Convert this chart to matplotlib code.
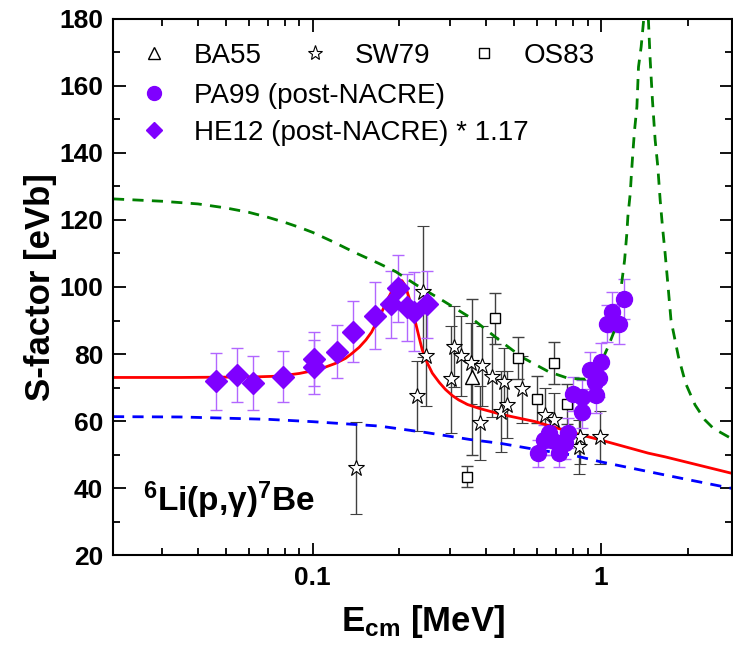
import numpy as np
import matplotlib
matplotlib.use('Agg')
import matplotlib.pyplot as plt
from matplotlib import ticker
from matplotlib.lines import Line2D

plt.rcParams['font.family'] = ['Liberation Sans', 'DejaVu Sans']
plt.rcParams['mathtext.fontset'] = 'custom'
plt.rcParams['mathtext.rm'] = 'Liberation Sans'
plt.rcParams['mathtext.it'] = 'Liberation Sans:italic'
plt.rcParams['mathtext.bf'] = 'Liberation Sans:bold'
plt.rcParams['mathtext.default'] = 'bf'

# ---- data ----
# HE12 (post-NACRE) * 1.17
he12_e = [0.0463, 0.0546, 0.062, 0.0792, 0.1007, 0.1007, 0.121, 0.138, 0.165, 0.187, 0.197, 0.213, 0.225, 0.249]
he12_s = [71.9, 73.7, 71.4, 73.2, 78.6, 76.2, 80.7, 86.7, 91.4, 94.8, 99.6, 93.9, 92.6, 94.9]
he12_err = [8.5, 8.0, 8.0, 7.6, 8.1, 8.1, 8.0, 9.0, 10.0, 10.0, 10.0, 10.0, 11.8, 10.0]

# PA99 (post-NACRE)
pa99_e = [0.605, 0.634, 0.659, 0.677, 0.714, 0.723, 0.753, 0.769, 0.798, 0.86, 0.86,
          0.919, 0.951, 0.961, 0.982, 1.0, 1.049, 1.092, 1.151, 1.198]
pa99_s = [50.4, 54.3, 56.3, 54.3, 50.4, 53.3, 53.3, 56.5, 68.1, 67.3, 62.8,
          75.2, 71.5, 67.8, 72.7, 77.7, 89.0, 92.6, 89.0, 96.3]
pa99_err = [4.0, 4.5, 4.5, 4.5, 4.0, 4.5, 4.5, 4.5, 5.0, 5.0, 5.0,
            5.5, 5.5, 5.5, 5.5, 5.5, 5.5, 6.0, 6.0, 6.0]

# SW79
sw79_e = [0.141, 0.231, 0.241, 0.247, 0.301, 0.309, 0.326, 0.355, 0.382, 0.387,
          0.42, 0.449, 0.461, 0.473, 0.531, 0.639, 0.686, 0.837, 0.849, 0.995]
sw79_s = [45.9, 67.5, 98.6, 79.4, 72.4, 82.2, 79.4, 77.2, 59.3, 76.4,
          73.2, 62.8, 71.7, 64.8, 69.5, 61.8, 60.3, 52.3, 55.3, 55.1]
sw79_err = [13.8, 10.5, 19.6, 15.0, 16.0, 12.0, 12.0, 12.0, 11.0, 12.0,
            12.0, 12.0, 10.0, 10.0, 10.0, 8.0, 8.0, 8.0, 8.0, 8.0]

# BA55
ba55_e = [0.356]
ba55_s = [73.2]
ba55_err = [23.2]

# OS83
os83_e = [0.344, 0.429, 0.516, 0.6, 0.686, 0.763]
os83_s = [43.4, 90.6, 78.7, 66.5, 77.2, 65.1]
os83_err = [3.2, 7.5, 6.3, 7.0, 6.3, 6.0]

# model curves
red_e = [0.0203, 0.035, 0.05, 0.065, 0.0767, 0.09, 0.1, 0.11, 0.12, 0.13, 0.137, 0.145,
         0.153, 0.16, 0.166, 0.172, 0.178, 0.184, 0.19, 0.195, 0.2, 0.204, 0.208, 0.212,
         0.216, 0.22, 0.224, 0.228, 0.234, 0.24, 0.25, 0.26, 0.275, 0.289, 0.305, 0.321,
         0.345, 0.377, 0.45, 0.593, 0.8, 1.0, 1.46, 1.67, 2.84]
red_s = [73.0, 73.0, 73.1, 73.2, 73.4, 74.2, 75.0, 76.0, 77.2, 78.7, 80.2, 82.0,
         84.2, 86.5, 89.2, 91.8, 94.5, 97.1, 99.4, 101.0, 101.9, 101.9, 100.8, 99.0,
         96.8, 94.0, 91.5, 89.0, 85.0, 81.2, 77.3, 74.3, 71.5, 69.4, 67.6, 66.3,
         64.9, 63.8, 62.0, 59.8, 56.5, 54.3, 50.4, 49.3, 44.4]

green_e = [0.0203, 0.03, 0.04, 0.05, 0.06, 0.07, 0.08, 0.09, 0.1, 0.117, 0.14, 0.17,
           0.194, 0.23, 0.282, 0.358, 0.454, 0.533, 0.659, 0.773, 0.883, 0.95, 0.982,
           1.02, 1.063, 1.127, 1.158, 1.18, 1.208, 1.23, 1.24, 1.264, 1.274, 1.29, 1.308,
           1.333, 1.35, 1.379, 1.405, 1.43, 1.445, 1.462, 1.482, 1.509, 1.542, 1.575,
           1.605, 1.635, 1.67, 1.714, 1.75, 1.857, 1.968, 2.121, 2.296, 2.455, 2.83]
green_s = [126.3, 125.6, 124.8, 123.6, 122.3, 120.8, 119.3, 117.8, 116.3, 113.6, 110.3, 107.0,
           104.6, 100.5, 96.0, 90.5, 83.5, 79.0, 74.7, 72.7, 72.5, 74.0, 76.0,
           79.0, 82.5, 88.1, 94.1, 101.1, 108.0, 116.0, 121.0, 128.0, 132.9, 139.9, 146.8,
           153.8, 165.7, 171.7, 179.2, 188.0, 188.0, 179.2, 167.8, 155.8, 143.9, 135.9,
           126.0, 118.0, 110.0, 99.1, 90.1, 79.2, 71.2, 64.8, 60.3, 57.8, 54.8]

blue_e = [0.0203, 0.035, 0.07, 0.1, 0.17, 0.25, 0.35, 0.45, 0.593, 0.8, 1.0, 1.46, 1.9, 2.84]
blue_s = [61.3, 61.2, 60.5, 59.8, 58.5, 56.5, 54.5, 53.3, 51.5, 49.8, 47.8, 44.9, 42.9, 39.9]

purple = '#7F00FF'
purple_err = '#B266FF'
grey_err = '#404040'

fig = plt.figure(figsize=(7.33, 6.48), dpi=100)
ax = fig.add_axes([0.1542, 0.1435, 0.8445, 0.8272])

eb = dict(capsize=4.5, elinewidth=1.0, capthick=1.0, linestyle='none')
ax.errorbar(ba55_e, ba55_s, yerr=ba55_err, fmt='^', ms=10, mfc='white', mec='black',
            mew=1.0, ecolor=grey_err, **eb)
ax.errorbar(sw79_e, sw79_s, yerr=sw79_err, fmt='*', ms=12, mfc='white', mec='black',
            mew=0.8, ecolor=grey_err, **eb)
ax.errorbar(os83_e, os83_s, yerr=os83_err, fmt='s', ms=7.5, mfc='white', mec='black',
            mew=1.0, ecolor=grey_err, **eb)
ax.errorbar(he12_e, he12_s, yerr=he12_err, fmt='D', ms=11.5, mfc=purple, mec=purple,
            ecolor=purple_err, **eb)
ax.errorbar(pa99_e, pa99_s, yerr=pa99_err, fmt='o', ms=11.5, mfc=purple, mec=purple,
            ecolor=purple_err, **eb)

ax.plot(green_e, green_s, color='#008000', lw=2.0, dashes=(4, 3))
ax.plot(blue_e, blue_s, color='#0000FF', lw=2.0, dashes=(4, 3))
ax.plot(red_e, red_s, color='#FF0000', lw=2.0)

ax.set_xscale('log')
ax.set_xlim(0.0203, 2.85)
ax.set_ylim(20, 180)
ax.set_xticks([0.1, 1])
ax.set_xticklabels(['0.1', '1'])
ax.xaxis.set_minor_locator(ticker.LogLocator(base=10, subs=np.arange(2, 10)))
ax.xaxis.set_minor_formatter(ticker.NullFormatter())
ax.set_yticks(np.arange(20, 181, 20))
ax.yaxis.set_minor_locator(ticker.MultipleLocator(10))

ax.tick_params(which='both', direction='in', top=True, right=True, width=1.3)
ax.tick_params(which='major', length=9, labelsize=19)
ax.tick_params(which='minor', length=5)
ax.tick_params(axis='y', pad=7)
ax.tick_params(axis='x', pad=8)
for lbl in ax.get_xticklabels() + ax.get_yticklabels():
    lbl.set_fontweight('bold')
for sp in ax.spines.values():
    sp.set_linewidth(1.5)

ax.set_xlabel('$E_{cm}$ [MeV]', fontsize=25, fontweight='bold')
ax.set_ylabel('S-factor [eVb]', fontsize=25, fontweight='bold')
ax.xaxis.set_label_coords(0.5, -0.09)
ax.yaxis.set_label_coords(-0.09, 0.5)

ax.text(0.049, 0.082, '$^{6}$Li(p,γ)$^{7}$Be', transform=ax.transAxes,
        fontsize=24, fontweight='bold', va='baseline', ha='left')

# legend: first row has three entries, then two single rows
h1 = [Line2D([], [], ls='none', marker='^', ms=9, mfc='white', mec='black'),
      Line2D([], [], ls='none', marker='*', ms=11, mfc='white', mec='black', mew=0.8),
      Line2D([], [], ls='none', marker='s', ms=6.5, mfc='white', mec='black')]
leg1 = ax.legend(h1, ['BA55', 'SW79', 'OS83'], ncol=3, loc='upper left',
                 bbox_to_anchor=(0.0436, 0.956), frameon=False, fontsize=20,
                 handlelength=1.0, handletextpad=0.95, columnspacing=1.4,
                 borderpad=0, borderaxespad=0)
ax.add_artist(leg1)
h2 = [Line2D([], [], ls='none', marker='o', ms=10, mfc=purple, mec=purple),
      Line2D([], [], ls='none', marker='D', ms=8.5, mfc=purple, mec=purple)]
ax.legend(h2, ['PA99 (post-NACRE)', 'HE12 (post-NACRE) * 1.17'], loc='upper left',
          bbox_to_anchor=(0.0436, 0.881), frameon=False, fontsize=20,
          handlelength=1.0, handletextpad=0.95, labelspacing=0.41,
          borderpad=0, borderaxespad=0)

fig.savefig('out.png', dpi=100)
